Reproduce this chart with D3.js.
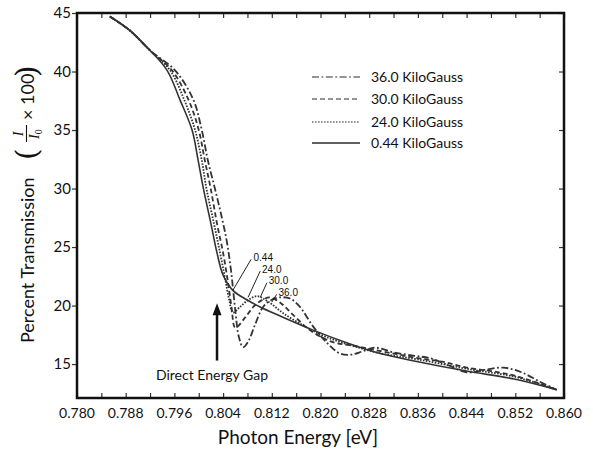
<!DOCTYPE html>
<html><head><meta charset="utf-8">
<script src="https://cdn.jsdelivr.net/npm/d3@7/dist/d3.min.js"></script>
<style>
body{margin:0;background:#fff}
text{font-family:Lato,'Noto Sans',sans-serif;fill:#111}
</style></head>
<body><svg id="c" width="593" height="450"></svg>
<script>
// ---------- data ----------
const xTickLabels = ["0.780","0.788","0.796","0.804","0.812","0.820","0.828","0.836","0.844","0.852","0.860"];
const yTickLabels = ["15","20","25","30","35","40","45"];
const seriesNames = ["36.0 KiloGauss","30.0 KiloGauss","24.0 KiloGauss","0.44 KiloGauss"];

const energy044 = [0.7854,0.7887,0.7920,0.7948,0.7969,0.7989,0.7999,0.8008,0.8020,0.8030,0.8040,0.8056,0.8079,0.8100,0.8134,0.8188,0.8244,0.8298,0.8360,0.8440,0.8520,0.8588];
const trans044  = [44.7,43.5,41.8,40.1,37.6,35.0,32.4,29.9,27.0,24.5,22.6,21.3,20.5,19.9,19.1,17.9,16.8,15.9,15.2,14.4,13.7,12.8];

const energy240 = [0.7854,0.7887,0.7920,0.7953,0.7976,0.7994,0.8005,0.8013,0.8025,0.8035,0.8043,0.8050,0.8056,0.8068,0.8082,0.8096,0.8115,0.8140,0.8175,0.8210,0.8250,0.8300,0.8360,0.8440,0.8520,0.8588];
const trans240  = [44.7,43.5,41.8,40.1,37.6,35.0,32.4,29.9,27.0,24.5,22.4,20.5,19.4,19.9,20.5,20.8,20.3,19.3,18.2,17.3,16.6,15.9,15.4,14.6,13.9,12.8];

const energy300 = [0.7854,0.7887,0.7920,0.7956,0.7983,0.8000,0.8010,0.8020,0.8030,0.8040,0.8048,0.8054,0.8060,0.8075,0.8090,0.8105,0.8117,0.8135,0.8155,0.8180,0.8205,0.8225,0.8250,0.8290,0.8360,0.8400,0.8440,0.8480,0.8520,0.8588];
const trans300  = [44.7,43.5,41.8,40.1,37.6,35.0,32.4,29.9,27.0,24.5,22.0,19.8,18.1,18.9,19.9,20.5,20.7,20.2,19.2,18.0,17.2,16.8,16.6,16.2,15.5,15.2,14.7,14.4,14.0,12.8];

const energy360 = [0.7854,0.7887,0.7920,0.7961,0.7991,0.8005,0.8015,0.8027,0.8038,0.8046,0.8053,0.8060,0.8066,0.8073,0.8082,0.8092,0.8106,0.8120,0.8134,0.8150,0.8166,0.8188,0.8211,0.8232,0.8250,0.8270,0.8290,0.8320,0.8355,0.8380,0.8410,0.8440,0.8470,0.8500,0.8530,0.8560,0.8588];
const trans360  = [44.7,43.5,41.8,40.1,37.6,35.0,32.4,29.9,27.5,25.5,23.0,19.6,17.3,16.45,17.0,18.3,19.9,20.5,20.7,20.6,19.9,18.2,16.8,15.9,15.8,16.1,16.4,16.0,15.7,15.5,14.9,14.3,14.5,14.7,14.3,13.5,12.8];

// curve-label annotations: text, text position, pointer start, pointer end
const annLabels = ["0.44","24.0","30.0","36.0"];
const annTextX  = [0.8090,0.8104,0.8115,0.8131];
const annTextY  = [23.8,22.8,21.8,20.8];
const annLineX0 = [0.8086,0.8101,0.8112,0.8128];
const annLineY0 = [23.95,22.95,21.95,20.95];
const annLineX1 = [0.8056,0.8081,0.8101,0.8120];
const annLineY1 = [21.3,20.7,20.7,20.3];
const arrowX = 0.8030, arrowY0 = 15.3, arrowY1 = 20.2;
const gapLabel = "Direct Energy Gap";

// ---------- layout ----------
const svg = d3.select("#c");
const L = 77, R = 564, T = 13, B = 398;
const x = d3.scaleLinear().domain([0.780, 0.860]).range([L, R]);
const y = d3.scaleLinear().domain([12.1, 45]).range([B, T]);

const series = [
  {name: seriesNames[0], ex: energy360, tr: trans360, dash: "7,2.5,1.8,2.5", w: 1.8},
  {name: seriesNames[1], ex: energy300, tr: trans300, dash: "5,3", w: 1.8},
  {name: seriesNames[2], ex: energy240, tr: trans240, dash: "1.6,1.4", w: 1.8},
  {name: seriesNames[3], ex: energy044, tr: trans044, dash: null, w: 1.6}
];

const line = d3.line().x(d => x(d[0])).y(d => y(d[1])).curve(d3.curveCatmullRom.alpha(0.5));

const g = svg.append("g");
series.forEach(s => {
  g.append("path")
    .datum(d3.zip(s.ex, s.tr))
    .attr("d", line)
    .attr("fill", "none")
    .attr("stroke", "#333")
    .attr("stroke-width", s.w)
    .attr("stroke-dasharray", s.dash);
});

// axes
const xt = d3.range(0, 21).map(i => 0.780 + i * 0.004);
const xAxisB = d3.axisBottom(x).tickValues(xt).tickSize(-5).tickFormat("");
const xAxisT = d3.axisTop(x).tickValues(xt).tickSize(-5).tickFormat("");
const yVals = yTickLabels.map(Number);
const yAxisL = d3.axisLeft(y).tickValues(yVals).tickSize(5).tickFormat("");
const yAxisR = d3.axisRight(y).tickValues(yVals).tickSize(-5).tickFormat("");

function styleAxis(sel){
  sel.select(".domain").remove();
  sel.selectAll(".tick line").attr("stroke", "#333").attr("stroke-width", 1.2);
}
svg.append("g").attr("transform", `translate(0,${B})`).call(xAxisB).call(styleAxis);
svg.append("g").attr("transform", `translate(0,${T})`).call(xAxisT).call(styleAxis);
svg.append("g").attr("transform", `translate(${L},0)`).call(yAxisL).call(styleAxis);
svg.append("g").attr("transform", `translate(${R},0)`).call(yAxisR).call(styleAxis);

// frame
svg.append("rect").attr("x", L).attr("y", T).attr("width", R - L).attr("height", B - T)
  .attr("fill", "none").attr("stroke", "#111").attr("stroke-width", 2.5);

// tick labels
svg.append("g").selectAll("text").data(xTickLabels).join("text")
  .attr("x", d => x(+d)).attr("y", 418).attr("text-anchor", "middle")
  .attr("font-size", 14).text(d => d);
svg.append("g").selectAll("text").data(yTickLabels).join("text")
  .attr("x", 71).attr("y", d => y(+d) + 5).attr("text-anchor", "end")
  .attr("font-size", 15).text(d => d);

// axis titles
svg.append("text").attr("x", 298).attr("y", 444).attr("text-anchor", "middle")
  .attr("font-size", 19).text("Photon Energy [eV]");

const yl = svg.append("g").attr("transform", "translate(34,205) rotate(-90)");
yl.append("text").attr("x", -138).attr("y", 0).attr("font-size", 18).text("Percent Transmission");
yl.append("text").attr("x", 45).attr("y", 3).attr("font-size", 30)
  .style("font-family", "'DejaVu Serif',serif").text("(");
yl.append("text").attr("x", 71).attr("y", -11).attr("text-anchor", "middle").attr("font-size", 14)
  .style("font-family", "'Liberation Serif',serif").style("font-style", "italic").text("I");
yl.append("line").attr("x1", 63).attr("x2", 80).attr("y1", -7.5).attr("y2", -7.5).attr("stroke", "#111").attr("stroke-width", 1.1);
const den = yl.append("text").attr("x", 66).attr("y", 5).attr("font-size", 14)
  .style("font-family", "'Liberation Serif',serif").style("font-style", "italic");
den.append("tspan").text("I");
den.append("tspan").attr("font-size", 10).attr("dy", 3).style("font-style", "normal").text("0");
yl.append("text").attr("x", 85).attr("y", 0).attr("font-size", 18).text("× 100");
yl.append("text").attr("x", 128).attr("y", 3).attr("font-size", 30)
  .style("font-family", "'DejaVu Serif',serif").text(")");

// legend
const leg = svg.append("g");
const legRowY = [77, 99, 122, 143];
series.forEach((s, i) => {
  leg.append("line").attr("x1", 312).attr("x2", 360).attr("y1", legRowY[i]).attr("y2", legRowY[i])
    .attr("stroke", "#2a2a2a").attr("stroke-width", s.dash ? 1.1 : 1.5).attr("stroke-dasharray", s.dash);
  leg.append("text").attr("x", 371).attr("y", legRowY[i] + 5).attr("font-size", 14).text(s.name);
});

// curve labels
annLabels.forEach((t, i) => {
  svg.append("line").attr("x1", x(annLineX0[i])).attr("y1", y(annLineY0[i]))
    .attr("x2", x(annLineX1[i])).attr("y2", y(annLineY1[i])).attr("stroke", "#222").attr("stroke-width", 1);
  svg.append("text").attr("x", x(annTextX[i])).attr("y", y(annTextY[i])).attr("font-size", 10)
    .style("font-family", "'Liberation Sans',sans-serif").text(t);
});

// arrow
svg.append("line").attr("x1", x(arrowX)).attr("x2", x(arrowX)).attr("y1", y(arrowY0)).attr("y2", y(arrowY1) + 10)
  .attr("stroke", "#111").attr("stroke-width", 2.5);
svg.append("path")
  .attr("d", `M${x(arrowX)},${y(arrowY1)} L${x(arrowX) - 4.5},${y(arrowY1) + 12} L${x(arrowX) + 4.5},${y(arrowY1) + 12} Z`)
  .attr("fill", "#111");
svg.append("text").attr("x", x(arrowX) - 5).attr("y", 380).attr("text-anchor", "middle")
  .attr("font-size", 14).text(gapLabel);
</script>
</body></html>
